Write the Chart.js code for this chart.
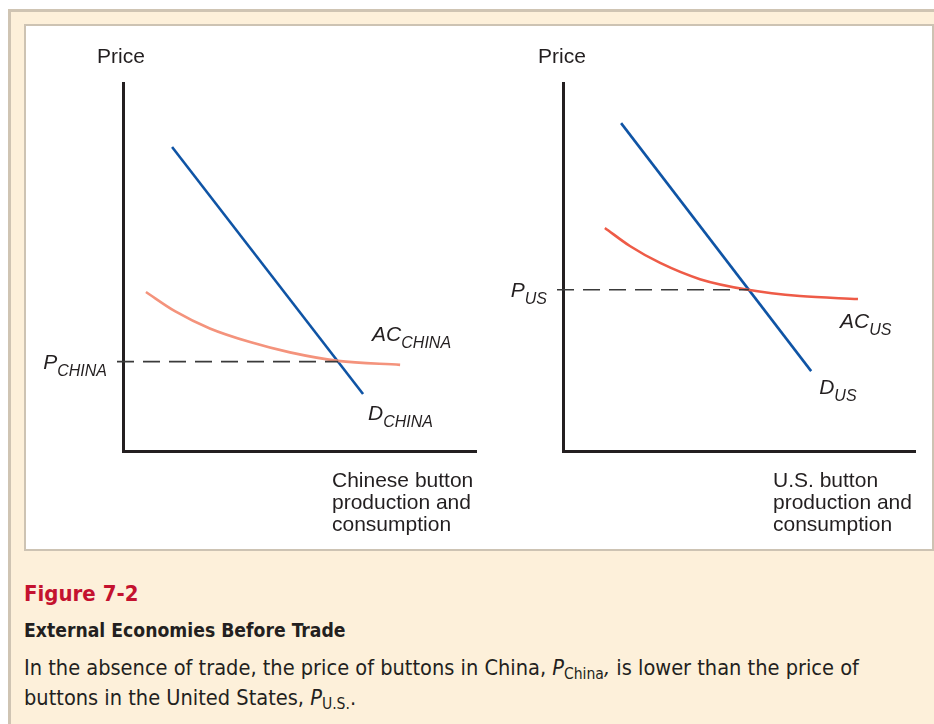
<!DOCTYPE html>
<html>
<head>
<meta charset="utf-8">
<script src="https://cdn.jsdelivr.net/npm/chart.js@4.4.1/dist/chart.umd.min.js"></script>
<style>
  body { margin: 0; background: #fff; width: 934px; height: 724px; overflow: hidden; position: relative; font-family: 'Liberation Sans', Arial, sans-serif; }
  #frame { position: absolute; left: 8px; top: 9px; width: 940px; height: 740px; background: #fdf0da; border: 3px solid #cfc4b3; }
  #panel { position: absolute; left: 24px; top: 24px; width: 906px; height: 523px; background: #fff; border: 2px solid #cdc3b3; }
  canvas { position: absolute; }
  .lab { position: absolute; font-size: 21px; line-height: 22px; color: #231f20; white-space: nowrap; }
  .cap { position: absolute; left: 24px; white-space: nowrap; color: #231f20; font-family: 'Liberation Sans Narrow', 'DejaVu Sans Condensed', sans-serif; font-stretch: condensed; }
  .cap i { font-style: italic; }
  .cap sub { font-size: 0.72em; vertical-align: -0.25em; line-height: 0; }
</style>
</head>
<body>
<div id="frame"></div>
<div id="panel"></div>

<canvas id="china" width="460" height="515" style="left:30px;top:30px;width:460px;height:515px"></canvas>
<canvas id="us" width="435" height="515" style="left:495px;top:30px;width:435px;height:515px"></canvas>

<div class="lab" style="left:97px;top:45px">Price</div>
<div class="lab" style="left:538px;top:45px">Price</div>
<div class="lab" style="left:332px;top:469px">Chinese button<br>production and<br>consumption</div>
<div class="lab" style="left:773px;top:469px">U.S. button<br>production and<br>consumption</div>

<div class="cap" style="top:581px;font-size:22px;font-weight:bold;color:#c4122f">Figure 7-2</div>
<div class="cap" style="top:619px;font-size:19.2px;font-weight:bold">External Economies Before Trade</div>
<div class="cap" style="top:653px;font-size:21.6px;line-height:30px">In the absence of trade, the price of buttons in China, <i>P</i><sub>China</sub><i>,</i> is lower than the price of<br>buttons in the United States, <i>P</i><sub>U.S.</sub>.</div>

<script>
// China panel (quantity 0-100, price 0-100)
const chinaDemandQ = [13.9, 68.0];
const chinaDemandP = [82.6, 15.5];
const chinaCostQ = [6.5, 14.7, 24.6, 36.0, 47.3, 60.9, 78.5];
const chinaCostP = [43.2, 38.0, 33.3, 29.6, 26.8, 24.5, 23.4];
const chinaPriceQ = [-1.7, 61.0];
const chinaPrice = 24.3;

// US panel
const usDemandQ = [16.5, 70.5];
const usDemandP = [89.1, 21.7];
const usCostQ = [11.9, 19.0, 27.6, 38.9, 52.6, 67.3, 83.8];
const usCostP = [60.6, 55.7, 51.1, 46.7, 43.8, 42.1, 41.3];
const usPriceQ = [-1.7, 52.8];
const usPrice = 43.8;

const labelsChina = { demand: 'CHINA', cost: 'CHINA', price: 'CHINA' };
const labelsUS = { demand: 'US', cost: 'US', price: 'US' };

function pts(qs, ps) {
    return qs.map((q, i) => ({ x: q, y: Array.isArray(ps) ? ps[i] : ps }));
}

// draws the italic curve labels with subscripts
const curveLabels = {
    id: 'curveLabels',
    afterDatasetsDraw(chart, args, opts) {
        const ctx = chart.ctx;
        ctx.save();
        ctx.fillStyle = '#231f20';
        ctx.textBaseline = 'alphabetic';
        opts.items.forEach(it => {
            const meta = chart.getDatasetMeta(it.dataset);
            const pt = it.first ? meta.data[0] : meta.data[meta.data.length - 1];
            ctx.font = 'italic 21px "Liberation Sans", Arial, sans-serif';
            const w1 = ctx.measureText(it.text).width;
            ctx.font = 'italic 16px "Liberation Sans", Arial, sans-serif';
            const w2 = ctx.measureText(it.sub).width;
            let x, y;
            if (it.left) {
                x = chart.chartArea.left - 16 - w1 - w2;
                y = pt.y + it.dy;
            } else {
                x = pt.x + it.dx;
                y = pt.y + it.dy;
            }
            ctx.font = 'italic 21px "Liberation Sans", Arial, sans-serif';
            ctx.fillText(it.text, x, y);
            ctx.font = 'italic 16px "Liberation Sans", Arial, sans-serif';
            ctx.fillText(it.sub, x + w1, y + 7);
        });
        ctx.restore();
    }
};

function makeChart(id, d, pad, names, offs) {
    const axis = {
        type: 'linear', min: 0, max: 100,
        grid: { display: false, drawTicks: false, tickLength: 0 },
        ticks: { display: false },
        border: { display: true, color: '#231f20', width: 3 }
    };
    return new Chart(document.getElementById(id), {
        type: 'scatter',
        data: {
            datasets: [
                { data: pts(d.priceQ, d.price), borderColor: '#3a3a3a', borderWidth: 1.6, borderDash: [17, 9], showLine: true, pointRadius: 0, clip: false },
                { data: pts(d.costQ, d.costP), borderColor: d.costColor, borderWidth: 2.6, showLine: true, pointRadius: 0, cubicInterpolationMode: 'monotone' },
                { data: pts(d.demandQ, d.demandP), borderColor: '#0f54a5', borderWidth: 2.6, showLine: true, pointRadius: 0 }
            ]
        },
        options: {
            responsive: false,
            animation: false,
            layout: { padding: pad },
            scales: { x: axis, y: Object.assign({}, axis) },
            plugins: {
                legend: { display: false },
                tooltip: { enabled: false },
                curveLabels: {
                    items: [
                        { dataset: 0, first: true, left: true, text: 'P', sub: names.price, dy: 7 },
                        { dataset: 1, text: 'AC', sub: names.cost, dx: offs.ac[0], dy: offs.ac[1] },
                        { dataset: 2, text: 'D', sub: names.demand, dx: offs.d[0], dy: offs.d[1] }
                    ]
                }
            }
        },
        plugins: [curveLabels]
    });
}

makeChart('china',
    { demandQ: chinaDemandQ, demandP: chinaDemandP, costQ: chinaCostQ, costP: chinaCostP, priceQ: chinaPriceQ, price: chinaPrice, costColor: '#f4937c' },
    { left: 93, top: 53, right: 14, bottom: 94 },
    labelsChina, { ac: [-28, -24], d: [5, 26] });

makeChart('us',
    { demandQ: usDemandQ, demandP: usDemandP, costQ: usCostQ, costP: usCostP, priceQ: usPriceQ, price: usPrice, costColor: '#ee5b47' },
    { left: 68, top: 53, right: 15, bottom: 94 },
    labelsUS, { ac: [-18, 29], d: [8, 23] });
</script>
</body>
</html>
